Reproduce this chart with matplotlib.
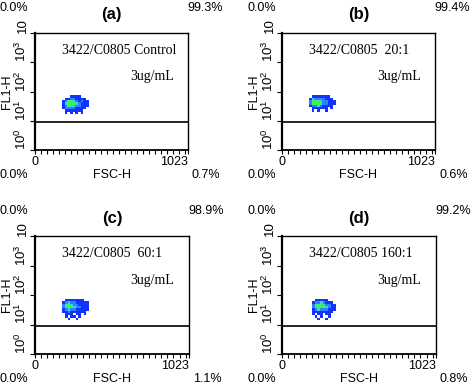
import numpy as np
import matplotlib
matplotlib.use("Agg")
import matplotlib.pyplot as plt
from matplotlib.colors import ListedColormap
from matplotlib.ticker import LogLocator, FixedLocator, NullFormatter

plt.rcParams['font.family'] = ['Liberation Sans', 'DejaVu Sans']
plt.rcParams['mathtext.fontset'] = 'custom'
plt.rcParams['mathtext.rm'] = 'Liberation Sans'

# panel data
panel_ids = ["(a)", "(b)", "(c)", "(d)"]
sample_names = ["3422/C0805 Control", "3422/C0805  20:1", "3422/C0805  60:1", "3422/C0805 160:1"]
dose = "3ug/mL"
top_left_pct = ["0.0%", "0.0%", "0.0%", "0.0%"]
top_right_pct = ["99.3%", "99.4%", "98.9%", "99.2%"]
bottom_left_pct = ["0.0%", "0.0%", "0.0%", "0.0%"]
bottom_right_pct = ["0.7%", "0.6%", "1.1%", "0.8%"]
gate_level = 9

# density bins of the cell cluster (FSC-H channel, log10 FL1-H)
fsc_edges = [180, 198, 216, 234, 252, 270, 288, 306, 324, 342, 360, 378]
fl1_log_edges = [1.15, 1.23, 1.31, 1.39, 1.47, 1.55, 1.63, 1.71, 1.79, 1.87, 1.95]

# density level per bin, top row first (0 = empty, 4 = densest)
density_a = [
    [0, 0, 0, 0, 0, 0, 0, 0, 0, 0, 0],
    [0, 0, 0, 1, 1, 1, 1, 0, 0, 0, 0],
    [0, 1, 1, 2, 2, 1, 1, 1, 1, 0, 0],
    [1, 2, 4, 4, 3, 2, 1, 2, 1, 1, 0],
    [1, 3, 4, 4, 4, 3, 2, 1, 1, 1, 0],
    [1, 2, 4, 3, 3, 2, 2, 1, 1, 1, 0],
    [1, 2, 2, 2, 2, 1, 1, 1, 1, 0, 0],
    [0, 1, 1, 1, 1, 1, 1, 1, 0, 0, 0],
    [0, 1, 0, 1, 0, 1, 0, 1, 0, 0, 0],
    [0, 0, 0, 0, 0, 0, 0, 0, 0, 0, 0],
]
density_b = [
    [0, 0, 0, 0, 0, 0, 0, 0, 0, 0, 0],
    [0, 1, 1, 1, 1, 1, 1, 1, 0, 0, 0],
    [1, 3, 2, 2, 2, 2, 1, 1, 1, 0, 0],
    [2, 4, 4, 4, 3, 2, 2, 1, 1, 1, 0],
    [2, 4, 4, 4, 4, 2, 2, 1, 1, 1, 0],
    [1, 2, 2, 3, 2, 1, 1, 1, 1, 0, 0],
    [0, 1, 1, 1, 1, 1, 1, 0, 1, 0, 0],
    [0, 1, 0, 1, 0, 0, 1, 0, 0, 0, 0],
    [0, 0, 0, 0, 0, 0, 0, 0, 0, 0, 0],
    [0, 0, 0, 0, 0, 0, 0, 0, 0, 0, 0],
]
density_c = [
    [0, 0, 0, 0, 0, 0, 0, 0, 0, 0, 0],
    [0, 1, 1, 1, 1, 1, 1, 1, 0, 0, 0],
    [1, 2, 3, 2, 2, 1, 1, 1, 1, 1, 0],
    [2, 4, 4, 3, 2, 2, 1, 1, 1, 1, 0],
    [2, 3, 4, 4, 3, 2, 2, 1, 1, 1, 0],
    [1, 2, 3, 2, 2, 1, 1, 1, 1, 1, 0],
    [1, 1, 2, 1, 1, 1, 1, 1, 1, 0, 0],
    [0, 1, 1, 1, 0, 1, 1, 0, 1, 0, 0],
    [0, 1, 0, 1, 1, 0, 1, 0, 0, 0, 0],
    [0, 0, 1, 0, 0, 1, 0, 0, 0, 0, 0],
]
density_d = [
    [0, 0, 0, 0, 0, 0, 0, 0, 0, 0, 0],
    [0, 0, 1, 1, 1, 1, 1, 0, 0, 0, 0],
    [0, 1, 2, 2, 3, 2, 1, 1, 1, 0, 0],
    [0, 2, 4, 4, 4, 3, 2, 2, 1, 1, 0],
    [0, 2, 4, 4, 4, 4, 3, 2, 1, 1, 0],
    [0, 1, 2, 3, 2, 2, 2, 1, 1, 1, 0],
    [0, 1, 1, 1, 1, 1, 1, 1, 1, 0, 0],
    [0, 1, 0, 1, 1, 0, 1, 1, 0, 0, 0],
    [0, 0, 1, 0, 1, 0, 0, 1, 0, 0, 0],
    [0, 0, 0, 1, 0, 0, 1, 0, 0, 0, 0],
]
densities = [density_a, density_b, density_c, density_d]

y_ticks = [1, 10, 100, 1000, 10000]
y_tick_labels = ["$10^0$", "$10^1$", "$10^2$", "$10^3$", "10"]
x_tick_labels = ["0", "1023"]

density_cmap = ListedColormap(["#1232ff", "#2a82ff", "#3ccfe6", "#3ef060"])

fig = plt.figure(figsize=(4.74, 3.85), dpi=100)

# axes boxes in pixels: left, top, width, height
boxes = [(35, 33, 153, 117), (282, 33, 153, 117), (35, 236, 154, 118), (282, 236, 154, 118)]

for i in range(4):
    left, top, w, h = boxes[i]
    ax = fig.add_axes([left / 474, 1 - (top + h) / 385, w / 474, h / 385])

    # cluster drawn as density cells
    dens = np.ma.masked_equal(np.array(densities[i])[::-1], 0)
    ax.pcolormesh(fsc_edges, 10 ** np.array(fl1_log_edges), dens,
                  cmap=density_cmap, vmin=0.5, vmax=4.5, shading='flat')

    # gate line
    ax.axhline(gate_level, color='black', lw=1.2)

    ax.set_xlim(0, 1023)
    ax.set_yscale('log')
    ax.set_ylim(1, 10000)

    # y axis ticks
    ax.yaxis.set_major_locator(FixedLocator(y_ticks))
    ax.yaxis.set_minor_locator(LogLocator(base=10, subs=np.arange(2, 10)))
    ax.yaxis.set_minor_formatter(NullFormatter())
    ax.set_yticklabels(y_tick_labels, rotation=90, va='bottom', fontsize=9.5)
    ax.tick_params(axis='y', which='major', length=3.5, width=0.8, pad=1, direction='out')
    ax.tick_params(axis='y', which='minor', length=2.5, width=0.8, direction='out')

    # x axis ticks
    ax.xaxis.set_major_locator(FixedLocator([0, 1023]))
    ax.set_xticklabels(x_tick_labels, fontsize=9)
    ax.get_xticklabels()[1].set_ha('right')
    ax.xaxis.set_minor_locator(FixedLocator(np.arange(40, 1023, 40)))
    ax.tick_params(axis='x', which='major', length=3, width=0.8, pad=1.5, direction='out')
    ax.tick_params(axis='x', which='minor', length=3, width=0.8, direction='out')

    ax.spines['left'].set_linewidth(1.6)
    ax.spines['bottom'].set_linewidth(1.3)
    ax.spines['top'].set_linewidth(1.0)
    ax.spines['right'].set_linewidth(1.0)

    # sample text inside the plot
    ax.text(0.176, 0.85, sample_names[i], transform=ax.transAxes, family='Liberation Serif',
            fontsize=10, ha='left', va='center')
    ax.text(0.62, 0.625, dose, transform=ax.transAxes, family='Liberation Serif',
            fontsize=10, ha='left', va='center')

    # labels and quadrant percentages around the box
    kw = dict(xycoords='axes fraction', textcoords='offset pixels', fontsize=9)
    ax.annotate(panel_ids[i], xy=(0.5, 1), xytext=(0, 18), ha='center', va='center',
                fontweight='bold', **{**kw, 'fontsize': 12})
    ax.annotate(top_left_pct[i], xy=(0, 1), xytext=(-35, 25), ha='left', va='center', **kw)
    ax.annotate(top_right_pct[i], xy=(1, 1), xytext=(-1, 25), ha='left', va='center', **kw)
    ax.annotate(bottom_left_pct[i], xy=(0, 0), xytext=(-35, -25), ha='left', va='center', **kw)
    ax.annotate(bottom_right_pct[i], xy=(1, 0), xytext=(4, -25), ha='left', va='center', **kw)
    ax.annotate("FSC-H", xy=(0.5, 0), xytext=(0, -25), ha='center', va='center', **kw)
    ax.annotate("FL1-H", xy=(0, 0.5), xytext=(-28, 0), ha='center', va='center',
                rotation=90, **kw)

fig.savefig("out.png", dpi=100)
